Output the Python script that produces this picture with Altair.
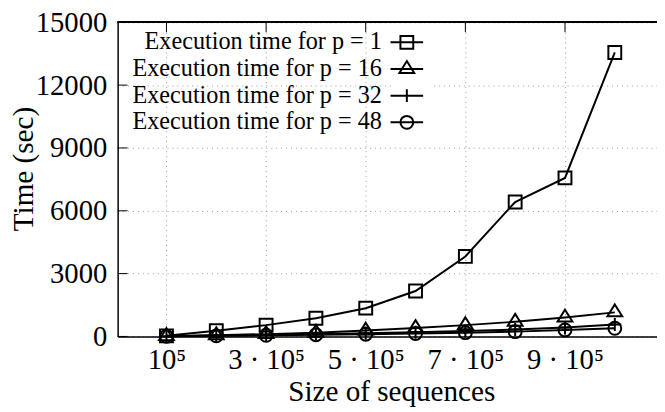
import altair as alt
import pandas as pd

sizes = [100000, 200000, 300000, 400000, 500000, 600000, 700000, 800000, 900000, 1000000]
series_names = ["Execution time for p = 1", "Execution time for p = 16",
                "Execution time for p = 32", "Execution time for p = 48"]
p1 = [30, 270, 540, 870, 1350, 2170, 3820, 6420, 7570, 13560]
p16 = [15, 60, 110, 180, 280, 400, 540, 700, 900, 1150]
p32 = [10, 40, 75, 110, 150, 200, 260, 330, 430, 570]
p48 = [8, 30, 55, 80, 105, 140, 180, 230, 310, 390]
x_ticks = [100000, 300000, 500000, 700000, 900000]
x_tick_labels = ["10⁵", "3 · 10⁵", "5 · 10⁵", "7 · 10⁵", "9 · 10⁵"]
y_ticks = [0, 3000, 6000, 9000, 12000, 15000]

rows = []
for name, vals in zip(series_names, [p1, p16, p32, p48]):
    for s, v in zip(sizes, vals):
        rows.append({"size": s, "time": v, "series": name, "key": name})
df = pd.DataFrame(rows)
xt = pd.DataFrame({"size": x_ticks})
yt = pd.DataFrame({"time": y_ticks})

W, H = 546, 318
FONT = "Liberation Serif"
xscale = alt.Scale(domain=[2000, 1084700], nice=False, zero=False)
yscale = alt.Scale(domain=[0, 15000], nice=False)

label_expr = " : ".join(
    [f"datum.value == {v} ? '{l}'" for v, l in zip(x_ticks, x_tick_labels)]) + " : ''"

x_axis = alt.Axis(values=x_ticks, labelExpr=label_expr, title="Size of sequences",
                  grid=True, ticks=False, titleX=277)
y_axis = alt.Axis(values=y_ticks, format="d", title="Time (sec)", grid=True, ticks=False,
                  titleY=148, titleX=-95, titleBaseline="middle")
X = alt.X("size:Q", scale=xscale, axis=x_axis)
Y = alt.Y("time:Q", scale=yscale, axis=y_axis)

marker_shapes = ["square", "M0,-1.23L1.15,0.62H-1.15Z", "M-1,0H1M0,-1V1", "circle"]
# legend samples: a 33 px line with the marker on it (symbol size 441 -> 10.5 px per unit)
legend_shapes = [
    "M-1.571,0H1.571M-0.619,-0.619H0.619V0.619H-0.619Z",
    "M-1.571,0H1.571M0,-0.762L0.714,0.381H-0.714Z",
    "M-1.571,0H1.571M0,-0.619V0.619",
    "M-1.571,0H1.571M0.619,0A0.619,0.619 0 1,1 -0.619,0A0.619,0.619 0 1,1 0.619,0Z",
]

base = alt.Chart(df)

lines = base.mark_line(color="black", strokeWidth=2).encode(
    x=X, y=Y, detail="series:N",
)

points = base.mark_point(color="black", filled=False, strokeWidth=2, size=170, opacity=1).encode(
    x=X, y=Y,
    shape=alt.Shape("series:N", scale=alt.Scale(domain=series_names, range=marker_shapes), legend=None),
)

legend_layer = base.transform_filter("datum.size < 0").mark_point(
    color="black", filled=False, strokeWidth=2, size=441, opacity=1).encode(
    x=X, y=Y,
    shape=alt.Shape("key:N", scale=alt.Scale(domain=series_names, range=legend_shapes),
                    legend=alt.Legend(orient="none", legendX=277.5, legendY=5, title=None,
                                      labelAlign="right", labelOffset={"expr": "-37.5"}, labelLimit=0,
                                      symbolSize=441, symbolStrokeWidth=2, symbolOpacity=1,
                                      symbolStrokeColor="black", symbolFillColor="transparent",
                                      labelFont=FONT, labelFontSize=24.5, labelColor="black",
                                      fillColor="white", padding=3)),
)

ytick_rules = alt.Chart(yt).mark_rule(color="black", strokeWidth=1).encode(
    y=Y, x=alt.value(0), x2=alt.value(10))
xtick_top = alt.Chart(xt).mark_rule(color="black", strokeWidth=1).encode(
    x=X, y=alt.value(0), y2=alt.value(10))
xtick_bottom = alt.Chart(xt).mark_rule(color="black", strokeWidth=1).encode(
    x=X, y=alt.value(H - 10), y2=alt.value(H))
top_border = alt.Chart(yt).mark_rule(color="black", strokeWidth=1.5).encode(
    x=alt.value(0), x2=alt.value(W), y=alt.value(0))

chart = alt.layer(
    lines, ytick_rules, xtick_top, xtick_bottom, points, legend_layer, top_border
).resolve_scale(shape="independent").resolve_legend(shape="independent").properties(
    width=W, height=H,
    autosize=alt.AutoSizeParams(type="none"),
    padding={"left": 111, "top": 12, "right": 0, "bottom": 74},
).configure_view(stroke=None).configure_axis(
    labelFont=FONT, titleFont=FONT, labelFontSize=29, titleFontSize=29.5,
    labelColor="black", titleColor="black", titleFontWeight="normal",
    domainColor="black", domainWidth=1.5,
    gridColor="#9a9a9a", gridDash=[1, 4], gridWidth=1,
).configure_axisX(labelPadding=9, titlePadding=4).configure_axisY(labelPadding=11)

chart.save("out.html", embed_options={"renderer": "svg", "actions": False})
